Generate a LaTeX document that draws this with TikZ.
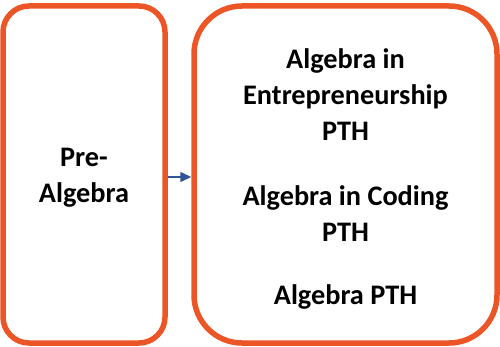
\documentclass[tikz,border=0pt]{standalone}
\usepackage{fontspec}
\setmainfont{Carlito}
\usetikzlibrary{arrows.meta}
\definecolor{boxorange}{RGB}{236,86,38}
\definecolor{arrowblue}{RGB}{47,85,151}
\begin{document}
\begin{tikzpicture}[x=1pt,y=1pt,
  box/.style={draw=boxorange, line width=5.5pt, inner sep=0pt},
  txt/.style={align=center, inner sep=0pt, font=\fontsize{28.3}{36}\selectfont\bfseries},
  link/.style={draw=arrowblue, line width=1.5pt, -{Triangle[length=11pt,width=10pt]}}]
\useasboundingbox (0,0) rectangle (500,346);
\node[box, rounded corners=26pt, minimum width=162pt, minimum height=337pt] (pre) at (84,171.5) {};
\node[box, rounded corners=48pt, minimum width=303pt, minimum height=337pt] (main) at (345.5,171.5) {};
\node[txt] (pretext) at ([yshift=-3pt]pre.center) {Pre-\\Algebra};
\node[txt] (maintext) at ([yshift=-4pt]main.center)
  {Algebra in\\Entrepreneurship\\PTH\\[29pt]Algebra in Coding\\PTH\\[27pt]Algebra PTH};
\coordinate (out) at (520,169);
\draw[link] ([yshift=-2.5pt]pre.east) -- ([yshift=-2.5pt]main.west);
\draw[link] ([yshift=-2.5pt]main.east) -- (out);
\end{tikzpicture}
\end{document}
